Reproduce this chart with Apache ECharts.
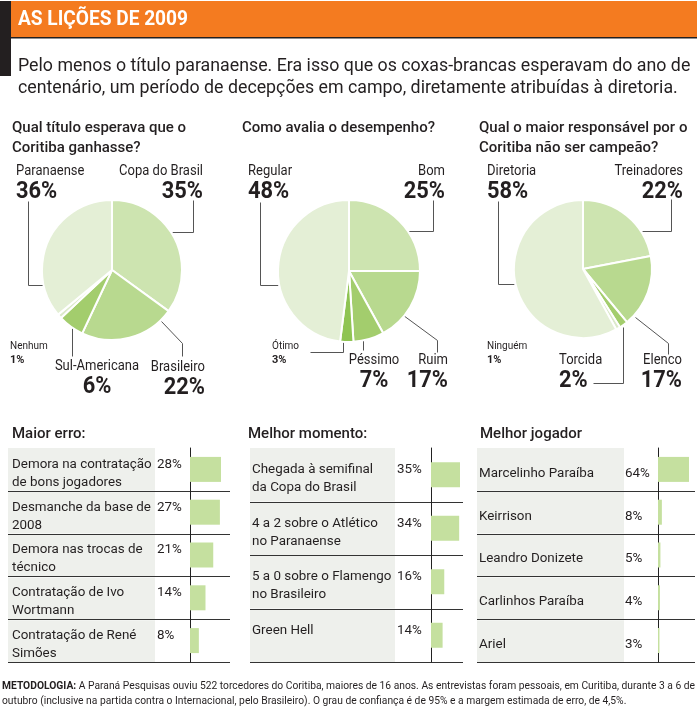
<!DOCTYPE html>
<html><head><meta charset="utf-8">
<script src="https://cdn.jsdelivr.net/npm/echarts@6/dist/echarts.min.js"></script>
<style>html,body{margin:0;padding:0;background:#fff}#c{width:697px;height:714px}</style>
</head><body><div id="c"></div>
<script>
// ---------- DATA ----------
const headline = 'AS LIÇÕES DE 2009';
const subtitleLines = [
  'Pelo menos o título paranaense. Era isso que os coxas-brancas esperavam do ano de',
  'centenário, um período de decepções em campo, diretamente atribuídas à diretoria.'
];
const pie1Title = ['Qual título esperava que o', 'Coritiba ganhasse?'];
const pie1Names = ['Copa do Brasil', 'Brasileiro', 'Sul-Americana', 'Nenhum', 'Paranaense'];
const pie1Values = [35, 22, 6, 1, 36];

const pie2Title = ['Como avalia o desempenho?'];
const pie2Names = ['Bom', 'Ruim', 'Péssimo', 'Ótimo', 'Regular'];
const pie2Values = [25, 17, 7, 3, 48];

const pie3Title = ['Qual o maior responsável por o', 'Coritiba não ser campeão?'];
const pie3Names = ['Treinadores', 'Elenco', 'Torcida', 'Ninguém', 'Diretoria'];
const pie3Values = [22, 17, 2, 1, 58];

const erroTitle = 'Maior erro:';
const erroNames = ['Demora na contratação\nde bons jogadores', 'Desmanche da base de\n2008', 'Demora nas trocas de\ntécnico', 'Contratação de Ivo\nWortmann', 'Contratação de René\nSimões'];
const erroValues = [28, 27, 21, 14, 8];

const momentoTitle = 'Melhor momento:';
const momentoNames = ['Chegada à semifinal\nda Copa do Brasil', '4 a 2 sobre o Atlético\nno Paranaense', '5 a 0 sobre o Flamengo\nno Brasileiro', 'Green Hell'];
const momentoValues = [35, 34, 16, 14];

const jogadorTitle = 'Melhor jogador';
const jogadorNames = ['Marcelinho Paraíba', 'Keirrison', 'Leandro Donizete', 'Carlinhos Paraíba', 'Ariel'];
const jogadorValues = [64, 8, 5, 4, 3];

const footerLabel = 'METODOLOGIA:';
const footerLines = [
  ' A Paraná Pesquisas ouviu 522 torcedores do Coritiba, maiores de 16 anos. As entrevistas foram pessoais, em Curitiba, durante 3 a 6 de',
  'outubro (inclusive na partida contra o Internacional, pelo Brasileiro). O grau de confiança é de 95% e a margem estimada de erro, de 4,5%.'
];

// ---------- STYLE / LAYOUT ----------
const FONT = 'Roboto, "Noto Sans", sans-serif';
const INK = '#231f20';
const LINE = '#555';
const sliceColors = ['#cde4b0', '#b8d98f', '#a3cd6d', '#dbe9c9', '#e4efd6'];
const sliceColors2 = ['#cde4b0', '#b8d98f', '#a3cd6d', '#8fc453', '#e4efd6'];
const barColor = '#c5e09f';
const rowGray = '#eef0ec';

const pies = [
  { names: pie1Names, values: pie1Values, colors: sliceColors, center: [112, 270], r: 70,
    title: pie1Title, tx: 12,
    labels: [
      { x: 203, y: 171, align: 'right' },
      { x: 205, y: 367, align: 'right' },
      { x: 97, y: 366, align: 'center' },
      { x: 10, y: 346, align: 'left', small: true },
      { x: 16, y: 171, align: 'left' }
    ],
    lines: [
      [[193, 200], [193, 232], [172, 232]],
      [[161, 321], [182, 343], [182, 356]],
      [[72, 328], [72, 356]],
      [[28, 201], [28, 285], [43, 285]]
    ] },
  { names: pie2Names, values: pie2Values, colors: sliceColors2, center: [349, 271], r: 71,
    title: pie2Title, tx: 242,
    labels: [
      { x: 445, y: 171, align: 'right' },
      { x: 448, y: 360, align: 'right' },
      { x: 374, y: 360, align: 'center' },
      { x: 272, y: 346, align: 'left', small: true },
      { x: 248, y: 171, align: 'left' }
    ],
    lines: [
      [[433, 200], [433, 231], [408, 231]],
      [[403, 315], [437, 340], [437, 352]],
      [[363, 340], [363, 350]],
      [[343, 338], [343, 352], [310, 352]],
      [[260, 202], [260, 285], [278, 285]]
    ] },
  { names: pie3Names, values: pie3Values, colors: sliceColors, center: [583, 269], r: 69,
    title: pie3Title, tx: 479,
    labels: [
      { x: 683, y: 171, align: 'right' },
      { x: 682, y: 360, align: 'right' },
      { x: 559, y: 360, align: 'left' },
      { x: 487, y: 346, align: 'left', small: true },
      { x: 487, y: 171, align: 'left' }
    ],
    lines: [
      [[671, 199], [671, 231], [642, 231]],
      [[635, 317], [668, 343], [668, 354]],
      [[623, 327], [623, 383], [593, 383]],
      [[498, 201], [498, 284], [514, 284]]
    ] }
];

const tables = [
  { title: erroTitle, names: erroNames, values: erroValues, titleX: 12, textX: 12, grayL: 8, grayR: 155, axisX: 190, barPx: 31, lineR: 230, tW: 145, lines: 2 },
  { title: momentoTitle, names: momentoNames, values: momentoValues, titleX: 248, textX: 252, grayL: 250, grayR: 395, axisX: 431, barPx: 29, lineR: 463, tW: 145, lines: 2 },
  { title: jogadorTitle, names: jogadorNames, values: jogadorValues, titleX: 480, textX: 479, grayL: 477, grayR: 624, axisX: 658, barPx: 31, lineR: 695, tW: 146, lines: 1 }
];
const tableTop = 448, tableBottom = 662;

// text measuring helper (for horizontal condensing of text to the reference widths)
const mctx = document.createElement('canvas').getContext('2d');
function textW(str, font) { mctx.font = font; return mctx.measureText(str).width; }

// ---------- BUILD ----------
const graphic = [];
// header
graphic.push({ type: 'rect', shape: { x: 0, y: 1, width: 11, height: 75 }, style: { fill: INK } });
graphic.push({ type: 'rect', shape: { x: 11, y: 1, width: 686, height: 36 }, style: { fill: '#f47b20' } });
graphic.push({ type: 'rect', shape: { x: 11, y: 37, width: 686, height: 1.5 }, style: { fill: INK } });
const headFont = 'bold 21px ' + FONT;
graphic.push({ type: 'text', x: 18, y: 20, scaleX: 170 / textW(headline, headFont), style: { text: headline, font: headFont, fill: '#fff', verticalAlign: 'middle' } });
subtitleLines.forEach((t, i) => graphic.push({ type: 'text', x: 18, y: 67 + i * 22, style: { text: t, font: '17.8px ' + FONT, fill: INK, verticalAlign: 'middle' } }));

// pies
const series = [];
pies.forEach((p, pi) => {
  series.push({
    type: 'pie', center: p.center, radius: p.r, startAngle: 90, clockwise: true,
    silent: true, label: { show: false }, labelLine: { show: false },
    itemStyle: { borderColor: '#fff', borderWidth: 2 },
    data: p.names.map((n, i) => ({ name: n, value: p.values[i], itemStyle: { color: p.colors[i] } }))
  });
  p.title.forEach((t, i) => graphic.push({ type: 'text', x: p.tx, y: 128 + i * 20, style: { text: t, font: '500 15px ' + FONT, fill: INK, verticalAlign: 'middle' } }));
  p.labels.forEach((l, i) => {
    const small = l.small;
    graphic.push({ type: 'text', x: l.x, y: l.y, scaleX: small ? 1 : 0.93, style: { text: p.names[i], font: (small ? '10px ' : '14px ') + FONT, fill: INK, align: l.align, verticalAlign: 'middle' } });
    graphic.push({ type: 'text', x: l.x, y: l.y + (small ? 14 : 21), scaleX: small ? 1 : 0.95, style: { text: p.values[i] + '%', font: (small ? 'bold 11px ' : 'bold 23px ') + FONT, fill: INK, align: l.align, verticalAlign: 'middle' } });
  });
  p.lines.forEach(pts => graphic.push({ type: 'polyline', shape: { points: pts.map(q => [q[0] + 0.5, q[1] + 0.5]) }, style: { stroke: LINE, lineWidth: 1, fill: null } }));
});

// tables
const grids = [], xAxes = [], yAxes = [];
tables.forEach((t, ti) => {
  const n = t.names.length, rowH = (tableBottom - tableTop) / n;
  graphic.push({ type: 'text', x: t.titleX, y: 434, style: { text: t.title, font: '500 15px ' + FONT, fill: INK, verticalAlign: 'middle' } });
  for (let i = 0; i < n; i++) {
    const y0 = tableTop + i * rowH;
    graphic.push({ type: 'rect', z: -1, shape: { x: t.grayL, y: y0 + (i ? 1 : 0), width: t.grayR - t.grayL, height: rowH - (i ? 1 : 0) }, style: { fill: rowGray } });
    const yl = Math.round(y0 + rowH) + 0.5;
    graphic.push({ type: 'line', shape: { x1: t.grayL, y1: yl, x2: t.lineR, y2: yl }, style: { stroke: '#333', lineWidth: 1 } });
  }
  const maxV = Math.max(...t.values);
  grids.push({ left: t.axisX, top: tableTop, width: t.barPx, height: tableBottom - tableTop, containLabel: false });
  xAxes.push({ gridIndex: ti, type: 'value', min: 0, max: maxV, show: false });
  yAxes.push({
    gridIndex: ti, type: 'category', inverse: true, data: t.names,
    axisLine: { show: true, lineStyle: { color: '#222', width: 1 } },
    axisTick: { show: false }, splitLine: { show: false },
    axisLabel: {
      margin: t.axisX - t.textX, align: 'left', verticalAlign: 'middle', padding: [8, 0, 0, 0],
      formatter: (v, idx) => {
        const ls = v.split('\n');
        let s = '{t|' + ls[0] + '}{p|' + t.values[idx] + '%}';
        for (let k = 1; k < ls.length; k++) s += '\n{t|' + ls[k] + '}';
        for (let k = ls.length; k < t.lines; k++) s += '\n{t| }';
        return s;
      },
      rich: {
        t: { width: t.tW, fontSize: 13.4, lineHeight: 18, fontFamily: FONT, color: INK },
        p: { fontSize: 13.4, lineHeight: 18, fontFamily: FONT, color: INK }
      }
    }
  });
  series.push({ type: 'bar', xAxisIndex: ti, yAxisIndex: ti, data: t.values, barWidth: 25, silent: true, itemStyle: { color: barColor } });
});

// footer (condensed horizontally to the reference line width)
const footFont = '11px ' + FONT, footBold = 'bold 11px ' + FONT;
const footScale = 693 / (textW(footerLabel, footBold) + textW(footerLines[0], footFont));
footerLines.forEach((t, i) => graphic.push({
  type: 'text', x: 2, y: 686 + i * 15.5, scaleX: footScale,
  style: { text: (i === 0 ? '{b|' + footerLabel + '}' : '') + t, font: footFont, fill: INK, verticalAlign: 'middle',
    rich: { b: { fontWeight: 'bold', fontSize: 11, fontFamily: FONT, fill: INK } } }
}));

const chart = echarts.init(document.getElementById('c'), null, { renderer: 'canvas' });
chart.setOption({
  animation: false, backgroundColor: '#fff',
  grid: grids, xAxis: xAxes, yAxis: yAxes, series: series, graphic: graphic
});
</script></body></html>
